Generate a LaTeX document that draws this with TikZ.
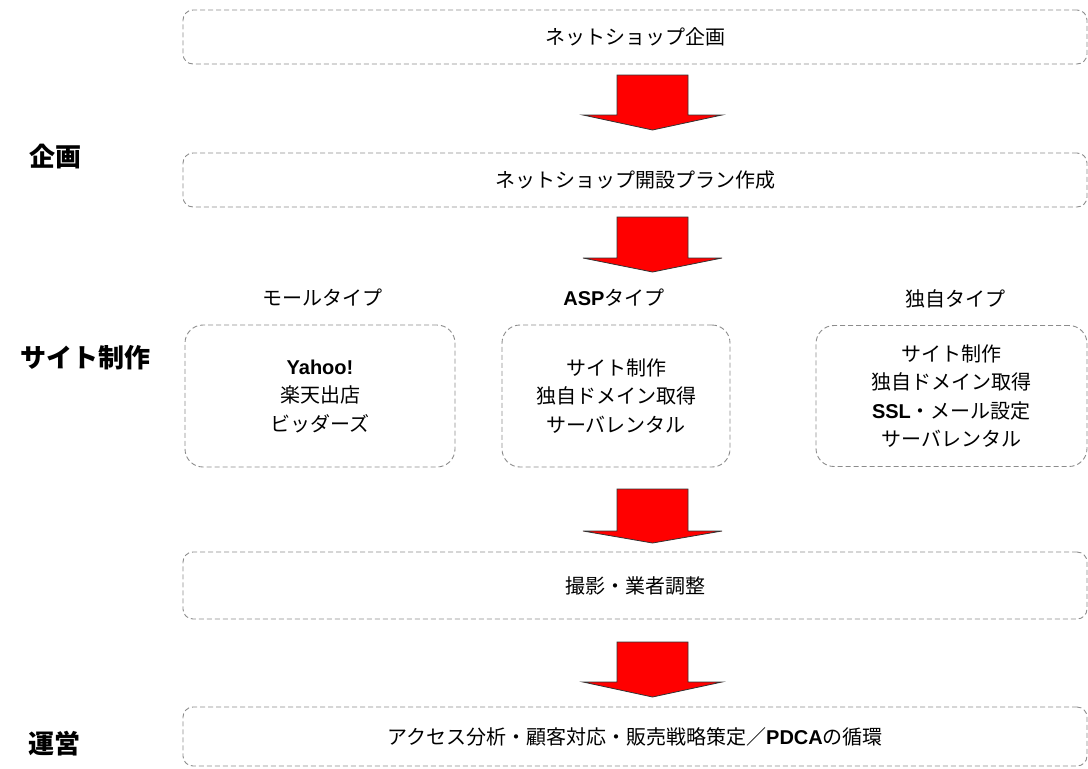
\documentclass[tikz,border=0pt]{standalone}
\usepackage{fontspec}
\setmainfont{Noto Sans CJK JP}
\newfontfamily\lat{Liberation Sans}
\usetikzlibrary{calc}
\tikzset{
  dbox/.style={draw=black!45, dash pattern=on 5pt off 3pt, line width=0.9pt,
    rounded corners=10pt, inner sep=0pt, align=center,
    font=\fontsize{20}{28.5}\selectfont},
  wide/.style={dbox, minimum width=904pt},
  mid/.style={dbox, rounded corners=18pt},
  hdr/.style={font=\fontsize{20}{24}\selectfont, inner sep=0pt},
  side/.style={font=\fontsize{26}{30}\selectfont\bfseries, inner sep=0pt},
  bigarr/.style={fill=red, draw=black!80, line width=0.8pt, line join=miter}
}
\newcommand\downarr[4]{%
  \draw[bigarr] (617,#2) -- (688,#2) -- (688,#3) -- (722,#3) -- (652.5,#4)
    -- (583,#3) -- (617,#3) -- cycle;
  \coordinate (#1) at (652.5,#4);}
\begin{document}
\begin{tikzpicture}[x=1pt,y=-1pt]
\useasboundingbox (0,0) rectangle (1088,769);
% wide boxes
\node[wide, minimum height=54pt] (plan) at (635,37) {ネットショップ企画};
\node[wide, minimum height=54pt] (openplan) at (635,180) {ネットショップ開設プラン作成};
\node[wide, minimum height=67pt] (shoot) at (635,585.5) {撮影・業者調整};
\node[wide, minimum height=59pt] (ops) at (635,736.5) {アクセス分析・顧客対応・販売戦略策定／{\lat\bfseries PDCA}の循環};
% middle boxes
\node[mid, minimum width=270pt, minimum height=142pt] (mall) at (320,396)
  {{\lat\bfseries Yahoo!}\\楽天出店\\ビッダーズ};
\node[mid, minimum width=228pt, minimum height=142pt] (asp) at (616,396)
  {サイト制作\\独自ドメイン取得\\サーバレンタル};
\node[mid, minimum width=271pt, minimum height=141pt] (own) at (951.5,396)
  {サイト制作\\独自ドメイン取得\\{\lat\bfseries SSL}・メール設定\\サーバレンタル};
% headers
\node[hdr] (hmall) at (322,298) {モールタイプ};
\node[hdr] (hasp) at (614,298) {{\lat\bfseries ASP}タイプ};
\node[hdr] (hown) at (955,299) {独自タイプ};
% side labels
\node[side] (s1) at (55,157) {企画};
\node[side] (s2) at (85,358) {サイト制作};
\node[side] (s3) at (54,744) {運営};
% arrows
\downarr{a1}{75}{115}{130}
\downarr{a2}{217}{258}{272}
\downarr{a3}{489}{531}{543}
\downarr{a4}{642}{682}{697}
\end{tikzpicture}
\end{document}
